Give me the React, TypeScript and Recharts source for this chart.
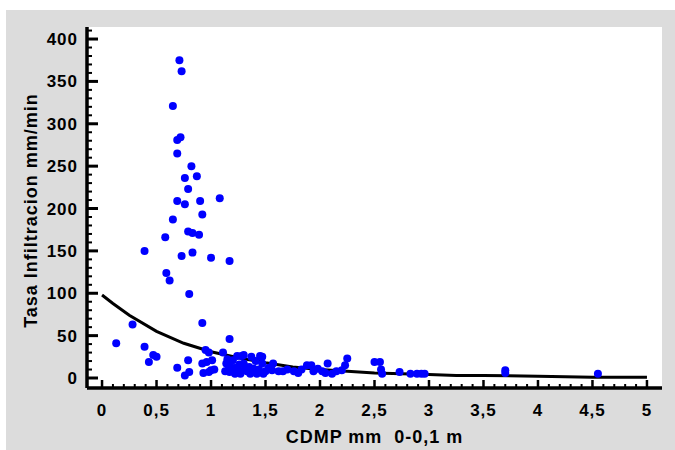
import { ComposedChart, Scatter, Line, XAxis, YAxis, CartesianGrid } from 'recharts';

// CDMP (mm) de cada muestra y su tasa de infiltración (mm/min)
const cdmp = [
  0.71, 0.73, 0.65, 0.72, 0.69, 0.69, 0.82, 0.76, 0.87, 0.79, 0.69, 0.76, 0.9, 1.08, 0.92, 0.65, 0.79, 0.83, 0.89,
  0.58, 0.39, 0.73, 0.83, 1.0, 1.17, 0.59, 0.62, 0.8, 0.92, 0.28, 0.13, 0.39, 1.17, 0.43, 0.47, 0.5, 0.69, 0.79,
  0.76, 0.8, 0.95, 0.98, 0.92, 0.96, 1.01, 0.98, 1.03, 0.93, 1.0, 1.11, 1.14,
  1.13, 1.16, 1.17, 1.2, 1.24, 1.25, 1.28, 1.3, 1.3, 1.33, 1.35, 1.37, 1.39, 1.42, 1.45, 1.47, 1.47, 1.5, 1.53,
  1.56, 1.57, 1.62, 1.19, 1.22, 1.27, 1.36, 1.44, 1.48, 1.31, 1.41, 1.15, 1.26, 1.23,
  1.66, 1.76, 1.83, 1.88, 1.92, 1.94, 2.02, 2.07, 2.11, 2.15, 2.2, 2.23, 2.25, 1.7, 1.8, 1.98, 2.05,
  2.5, 2.55, 2.56, 2.57, 2.73, 2.83, 2.89, 2.93, 2.96, 3.7, 3.7, 4.55,
];
const infiltracion = [
  375, 362, 321, 284, 281, 265, 250, 236, 238, 223, 209, 205, 209, 212, 193, 187, 173, 171, 169,
  166, 150, 144, 148, 142, 138, 124, 115, 99, 65, 63, 41, 37, 46, 19, 27, 25, 12, 21,
  3, 7, 33, 30, 17, 19, 21, 7, 10, 6, 9, 30, 17,
  8, 15, 7, 21, 26, 9, 26, 17, 27, 8, 13, 25, 11, 5, 26, 17, 25, 8, 12,
  9, 17, 8, 12, 5, 5, 5, 10, 5, 10, 20, 22, 16, 12,
  8, 8, 10, 15, 15, 8, 8, 17, 5, 8, 9, 15, 23, 10, 6, 11, 6,
  19, 19, 10, 5, 7, 5, 5, 5, 5, 9, 6, 5,
];

// curva ajustada
const curveCdmp = [0, 0.1, 0.25, 0.5, 0.75, 1, 1.25, 1.5, 1.75, 2, 2.25, 2.5, 2.75, 3, 3.25, 3.5, 4, 4.5, 5];
const curveInfiltracion = [98, 88, 74, 55, 41, 31, 24, 18, 13, 10, 8, 6, 5, 4, 3, 3, 2, 1, 1];

const xTickLabels = [0, 0.5, 1, 1.5, 2, 2.5, 3, 3.5, 4, 4.5, 5];
const yTickLabels = [0, 50, 100, 150, 200, 250, 300, 350, 400];

const points = cdmp.map((x, i) => ({ x, y: infiltracion[i] }));
const curve = curveCdmp.map((x, i) => ({ x, y: curveInfiltracion[i] }));

// minor ticks every 0.1 / every 10
const xTicks = Array.from({ length: 51 }, (_, i) => i / 10);
const yTicks = Array.from({ length: 42 }, (_, i) => i * 10);

const font = '"Liberation Sans", Arial, sans-serif';
const fmt = (v: number) => String(v).replace('.', ',');

const XTick = (props: any) => {
  const { x, y, payload } = props;
  const major = xTickLabels.some((t) => Math.abs(t - payload.value) < 1e-6);
  return (
    <g>
      <line x1={x} x2={x} y1={y} y2={y - (major ? 8 : 4)} stroke="#000" strokeWidth={major ? 2.5 : 2} />
      {major && (
        <text x={x} y={y + 28} textAnchor="middle" fontFamily={font} fontWeight="bold" fontSize={17}
          letterSpacing={1} fill="#000">
          {fmt(payload.value)}
        </text>
      )}
    </g>
  );
};

const YTick = (props: any) => {
  const { x, y, payload } = props;
  const major = yTickLabels.includes(payload.value);
  return (
    <g>
      <line x1={x} x2={x + (major ? 11 : 5)} y1={y} y2={y} stroke="#000" strokeWidth={major ? 3 : 2} />
      {major && (
        <text x={x - 9} y={y + 6} textAnchor="end" fontFamily={font} fontWeight="bold" fontSize={17}
          letterSpacing={1} fill="#000">
          {payload.value}
        </text>
      )}
    </g>
  );
};

const XTitle = (props: any) => {
  const { viewBox } = props;
  return (
    <text x={viewBox.x + viewBox.width / 2} y={viewBox.y + 55} textAnchor="middle" fontFamily={font}
      fontWeight="bold" fontSize={18} letterSpacing={1} fill="#000">
      {'CDMP mm\u00a0 0-0,1 m'}
    </text>
  );
};

const YTitle = (props: any) => {
  const { viewBox } = props;
  const cx = viewBox.x + 31;
  const cy = viewBox.y + viewBox.height / 2 + 3;
  return (
    <text x={cx} y={cy} textAnchor="middle" transform={`rotate(-90, ${cx}, ${cy})`} fontFamily={font}
      fontWeight="bold" fontSize={18} letterSpacing={1} fill="#000">
      Tasa Infiltracion mm/min
    </text>
  );
};

export default function App() {
  return (
    <div style={{ position: 'absolute', left: 6, top: 10, width: 669, height: 440, background: '#dcdcdc' }}>
      <ComposedChart width={669} height={440} margin={{ top: 17, right: 13, left: 0, bottom: 0 }}>
        <CartesianGrid horizontal={false} vertical={false} fill="#ffffff" stroke="none" />
        <XAxis type="number" dataKey="x" domain={[-0.138, 5.138]} allowDataOverflow ticks={xTicks} interval={0}
          height={62} tickSize={0} tickMargin={0} tickLine={false} tick={<XTick />}
          axisLine={{ stroke: '#000', strokeWidth: 3.5 }} label={XTitle} />
        <YAxis type="number" dataKey="y" domain={[-11.8, 414.2]} allowDataOverflow ticks={yTicks} interval={0}
          width={81} tickSize={0} tickMargin={0} tickLine={false} tick={<YTick />}
          axisLine={{ stroke: '#000', strokeWidth: 3.5 }} label={YTitle} />
        <Scatter data={points} dataKey="y" fill="#0000ff" isAnimationActive={false}
          shape={(p: any) => <circle cx={p.cx} cy={p.cy} r={4} fill="#0000ff" />} />
        <Line data={curve} dataKey="y" type="linear" stroke="#000" strokeWidth={3} dot={false}
          activeDot={false} isAnimationActive={false} />
      </ComposedChart>
    </div>
  );
}
